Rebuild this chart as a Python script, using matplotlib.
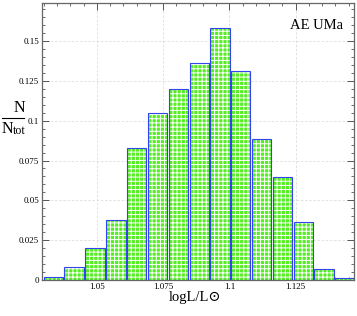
import numpy as np
from matplotlib import pyplot as plt
from matplotlib.lines import Line2D
from matplotlib.ticker import MultipleLocator, FixedFormatter, FixedLocator

# histogram data
centres = [1.0336, 1.0414, 1.0493, 1.0572, 1.0650, 1.0729, 1.0807, 1.0886,
           1.0964, 1.1043, 1.1121, 1.1200, 1.1279, 1.1357, 1.1436]
hauteurs = [0.0021, 0.0080, 0.0199, 0.0375, 0.0827, 0.1050, 0.1198, 0.1363,
            0.1580, 0.1315, 0.0884, 0.0645, 0.0362, 0.0067, 0.0010]
xticks = [1.05, 1.075, 1.1, 1.125]
xlabels = ["1.05", "1.075", "1.1", "1.125"]
yticks = [0, 0.025, 0.05, 0.075, 0.1, 0.125, 0.15]
ylabels = ["0", "0.025", "0.05", "0.075", "0.1", "0.125", "0.15"]

plt.rcParams['font.family'] = ['Liberation Serif', 'DejaVu Serif']
plt.rcParams['hatch.linewidth'] = 0.7

fig = plt.figure(figsize=(3.57, 3.16), dpi=100)
ax = fig.add_axes([42/357, 1-280/316, 312/357, 277/316])

largeur = 0.0073
# fond vert + motif blanc
ax.bar(centres, hauteurs, width=largeur, color='#55ee22', edgecolor='white',
       linewidth=0, hatch='++++', zorder=2)
# contour bleu
ax.bar(centres, hauteurs, width=largeur, fill=False, edgecolor='#3344ee',
       linewidth=0.8, zorder=3)

ax.set_xlim(1.0293, 1.147)
ax.set_ylim(0, 0.1739)

ax.xaxis.set_major_locator(FixedLocator(xticks))
ax.xaxis.set_major_formatter(FixedFormatter(xlabels))
ax.yaxis.set_major_locator(FixedLocator(yticks))
ax.yaxis.set_major_formatter(FixedFormatter(ylabels))
ax.xaxis.set_minor_locator(MultipleLocator(0.005))
ax.yaxis.set_minor_locator(MultipleLocator(0.005))
ax.tick_params(which='both', direction='in', top=True, right=True,
               labelsize=6.5, color='#555555', pad=2)
ax.tick_params(which='major', length=5, width=0.7)
ax.tick_params(which='minor', length=2.5, width=0.6)
for s in ax.spines.values():
    s.set_color('#666666')
    s.set_linewidth(0.9)

ax.grid(True, which='major', color='#dddddd', linewidth=0.6, linestyle=(0, (3, 2)), zorder=0)
ax.set_axisbelow(True)

ax.text(0.965, 0.92, "AE UMa", transform=ax.transAxes, ha='right', va='center',
        fontsize=10.5)
fig.text(195/357, 1-298/316, "logL/L\u2299", ha='center', va='center', fontsize=10.5)

# N / N_tot a la main
fig.text(19/357, 1-108/316, "N", ha='center', va='center', fontsize=11.5)
fig.add_artist(Line2D([2/357, 24/357], [1-118/316, 1-118/316], color='black',
                      linewidth=0.8))
fig.text(7.5/357, 1-129/316, "N", ha='center', va='center', fontsize=11.5)
fig.text(19.5/357, 1-131/316, "tot", ha='center', va='center', fontsize=8.5)

fig.savefig("out.png", dpi=100)
